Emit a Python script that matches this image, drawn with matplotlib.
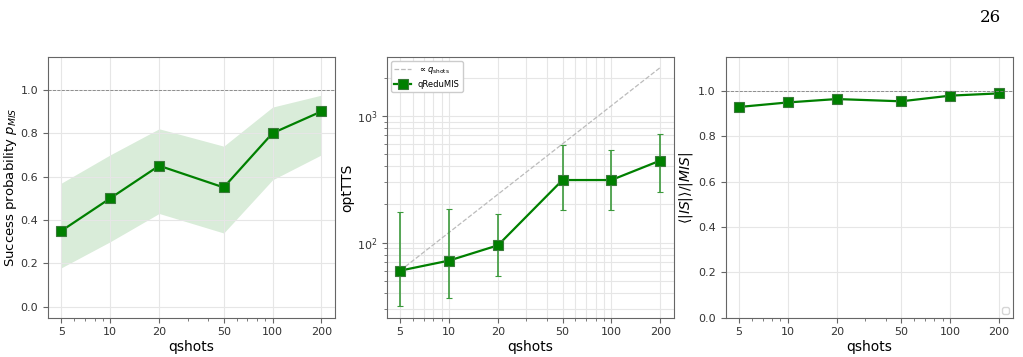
import numpy as np
import matplotlib
matplotlib.use("Agg")
import matplotlib.pyplot as plt
from matplotlib.ticker import FixedLocator, NullFormatter

qshots = [5, 10, 20, 50, 100, 200]
tick_labels = ["5", "10", "20", "50", "100", "200"]

p_mis = [0.35, 0.50, 0.65, 0.55, 0.80, 0.90]
p_low = [0.18, 0.30, 0.43, 0.34, 0.585, 0.70]
p_high = [0.57, 0.70, 0.82, 0.74, 0.92, 0.975]

tts = [60, 72, 95, 311, 311, 443]
tts_low = [31.6, 36.5, 54.3, 180, 180, 252]
tts_high = [173, 183, 167, 584, 537, 713]

ratio = [0.93, 0.95, 0.965, 0.955, 0.98, 0.99]

green = "green"
spine_col = "#666666"

plt.rcParams["font.size"] = 8


def style(ax):
    ax.set_xscale("log")
    ax.xaxis.set_major_locator(FixedLocator(qshots))
    ax.set_xticklabels(tick_labels)
    ax.xaxis.set_minor_formatter(NullFormatter())
    ax.set_xlim(4.14, 243)
    for s in ax.spines.values():
        s.set_color(spine_col)
    ax.tick_params(colors="#333333", labelsize=8)
    ax.tick_params(which="both", color=spine_col)
    ax.set_xlabel("qshots", fontsize=10, labelpad=2)


fig, axes = plt.subplots(1, 3, figsize=(10.23, 3.57), dpi=100)
fig.subplots_adjust(left=0.047, right=0.99, bottom=0.11, top=0.84, wspace=0.18)

# panel 1
ax = axes[0]
ax.grid(True, which="major", color="#e6e6e6", lw=0.8)
ax.fill_between(qshots, p_low, p_high, color=green, alpha=0.15, lw=0)
ax.plot(qshots, p_mis, "-s", color=green, lw=1.6, ms=6.5,
        mec="#3a7a3a", mew=0.8)
ax.axhline(1.0, color="gray", ls="--", lw=0.6)
style(ax)
ax.set_ylim(-0.05, 1.15)
ax.set_yticks([0.0, 0.2, 0.4, 0.6, 0.8, 1.0])
ax.set_ylabel("Success probability $p_{MIS}$", fontsize=9.5, labelpad=1)

# panel 2
ax = axes[1]
ax.set_yscale("log")
ax.grid(True, which="both", color="#e6e6e6", lw=0.8)
ref = [tts[0] * q / qshots[0] for q in qshots]
ax.plot(qshots, ref, "--", color="#bbbbbb", lw=0.9, label=r"$\propto q_{\rm shots}$")
yerr = [np.array(tts) - np.array(tts_low), np.array(tts_high) - np.array(tts)]
ax.errorbar(qshots, tts, yerr=yerr, fmt="-s", color=green, lw=1.6, ms=6.5,
            mec="#3a7a3a", mew=0.8, ecolor="#3c9a3c", elinewidth=1.2,
            capsize=2.5, label="qReduMIS")
style(ax)
ax.set_ylim(25.5, 2900)
ax.set_ylabel("optTTS", fontsize=10, labelpad=2)
ax.legend(loc="upper left", fontsize=6, framealpha=1, edgecolor="#cccccc")

# panel 3
ax = axes[2]
ax.grid(True, which="major", color="#e6e6e6", lw=0.8)
ax.plot(qshots, ratio, "-s", color=green, lw=1.6, ms=6.5,
        mec="#3a7a3a", mew=0.8)
ax.axhline(1.0, color="gray", ls="--", lw=0.6)
style(ax)
ax.set_ylim(0, 1.15)
ax.set_yticks([0.0, 0.2, 0.4, 0.6, 0.8, 1.0])
ax.set_ylabel(r"$\langle |IS| \rangle / |MIS|$", fontsize=10, labelpad=2)
ax.legend(handles=[], loc="lower right", fontsize=6, edgecolor="#cccccc")

fig.text(0.978, 0.95, "26", family="DejaVu Serif", fontsize=12, ha="right", va="center")

fig.savefig("out.png", dpi=100)
